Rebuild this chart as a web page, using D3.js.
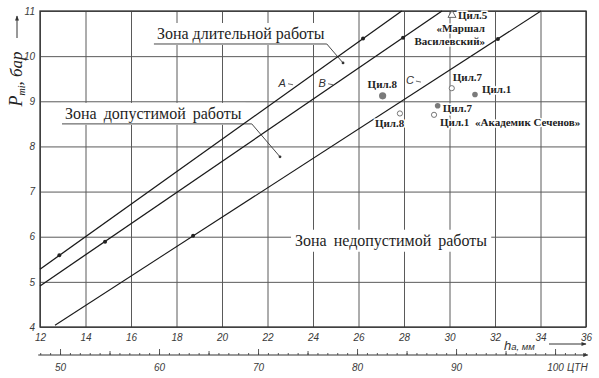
<!DOCTYPE html>
<html><head><meta charset="utf-8">
<script src="https://cdn.jsdelivr.net/npm/d3@7"></script>
<style>
body{margin:0;background:#fff;}
svg{display:block;}
</style></head><body>
<svg id="c" width="599" height="378"></svg>
<script>
// ---------- data ----------
const hTicks = [12,14,16,18,20,22,24,26,28,30,32,34,36];      // h_a, мм
const pTicks = [4,5,6,7,8,9,10,11];                             // P_mi, бар
const rulerTicks = [50,60,70,80,90,100];                         // ЦТН
const rulerMinor = d3.range(48,104,1);
const rulerMid = [55,65,75,85,95];
const rulerRange = [47.8, 103.3];
const rulerH = [12.88, 34.64];      // h_a (мм) matching 50 and 100 ЦТН

const lineNames = ["A","B","C"];
const lineA = [[12,5.28],[27.9,11.0]];
const lineB = [[12,4.91],[29.67,11.0]];
const lineC = [[12.66,4.04],[34.02,11.0]];
const lineAmarks = [[12.85,5.59],[26.2,10.39]];
const lineBmarks = [[14.86,5.89],[27.96,10.41]];
const lineCmarks = [[18.73,6.02],[32.13,10.38]];
const lineLabelPos = [[22.64,9.41],[24.40,9.41],[28.26,9.47]];

const cylNames = ["Цил.8","Цил.8","Цил.7","Цил.1","Цил.7","Цил.1","Цил.5"];
const cylH = [27.06, 27.82, 30.10, 31.12, 29.48, 29.32, 30.11];
const cylP = [9.12, 8.73, 9.29, 9.15, 8.90, 8.70, 10.91];
const cylMarker = ["filled","open","open","filled","filled","open","triangle"];

const zoneTexts = ["Зона длительной работы","Зона допустимой работы","Зона недопустимой работы"];
const zonePos = [[17.14,10.38],[13.10,8.61],[23.21,5.80]];
const zoneTargets = [[25.32,9.85],[22.55,7.77],null];

// ---------- layout ----------
const svg = d3.select("#c");
const W = 546, H = 316, L = 40, T = 11;
const x = d3.scaleLinear().domain([12,36]).range([L, L+W]);
const y = d3.scaleLinear().domain([4,11]).range([T+H, T]);
const xr = d3.scaleLinear().domain([50,100]).range([x(rulerH[0]), x(rulerH[1])]);

const gridColor = "#5a5a5a";
const tickFont = "'Liberation Sans', sans-serif";

// grid + tick labels via axes
const gx = svg.append("g").attr("transform",`translate(0,${T+H})`)
  .call(d3.axisBottom(x).tickValues(hTicks).tickSize(-H).tickPadding(7).tickFormat(d3.format("d")));
gx.select(".domain").remove();
gx.selectAll("line").attr("stroke",gridColor).attr("stroke-width",1);
gx.selectAll("text").attr("font-family",tickFont).attr("font-style","italic").attr("font-size",10).attr("fill","#3a3a3a");

const gy = svg.append("g").attr("transform",`translate(${L},0)`)
  .call(d3.axisLeft(y).tickValues(pTicks).tickSize(-W).tickPadding(5).tickFormat(d3.format("d")));
gy.select(".domain").remove();
gy.selectAll("line").attr("stroke",gridColor).attr("stroke-width",1);
gy.selectAll("text").attr("font-family",tickFont).attr("font-style","italic").attr("font-size",10).attr("fill","#3a3a3a");

// frame
svg.append("rect").attr("x",x(12)).attr("y",y(11)).attr("width",x(36)-x(12)).attr("height",y(4)-y(11))
  .attr("fill","none").attr("stroke","#333").attr("stroke-width",1.3);

// defs arrow
const defs = svg.append("defs");
defs.append("marker").attr("id","arr").attr("viewBox","0 0 10 10").attr("refX",9).attr("refY",5)
  .attr("markerWidth",7).attr("markerHeight",5).attr("orient","auto")
  .append("path").attr("d","M0,1 L10,5 L0,9 Z").attr("fill","#333");

// zone labels (white boxes)
const zoneG = svg.append("g");
zoneTexts.forEach((t,i)=>{
  const gz = zoneG.append("g");
  const txt = gz.append("text").attr("x",x(zonePos[i][0])).attr("y",y(zonePos[i][1]))
    .attr("font-family","'Liberation Serif', serif").attr("font-size",16).attr("fill","#1e1e1e")
    .attr("word-spacing", i===0?0:3).text(t);
  const bb = txt.node().getBBox();
  gz.insert("rect","text").attr("x",bb.x-4).attr("y",bb.y-2).attr("width",bb.width+8).attr("height",bb.height+4).attr("fill","#fff");
  if (zoneTargets[i]) {
    const uy = bb.y+bb.height+1;
    const ux0 = bb.x-3, ux1 = bb.x+bb.width+ (i===0?2:10);
    gz.append("path").attr("d",`M${ux0},${uy} L${ux1},${uy} L${x(zoneTargets[i][0])},${y(zoneTargets[i][1])}`)
      .attr("fill","none").attr("stroke","#333").attr("stroke-width",0.9);
    gz.append("circle").attr("cx",x(zoneTargets[i][0])).attr("cy",y(zoneTargets[i][1])).attr("r",1.4).attr("fill","#333");
  }
});

// lines
const lineGen = d3.line().x(d=>x(d[0])).y(d=>y(d[1]));
const lines = [lineA,lineB,lineC];
const marks = [lineAmarks,lineBmarks,lineCmarks];
lines.forEach((ln,i)=>{
  svg.append("path").attr("d",lineGen(ln)).attr("fill","none").attr("stroke","#1a1a1a").attr("stroke-width", i===2?1.1:1.3);
  svg.selectAll(null).data(marks[i]).join("circle").attr("cx",d=>x(d[0])).attr("cy",d=>y(d[1])).attr("r",2).attr("fill","#222");
});
lineNames.forEach((n,i)=>{
  const px = x(lineLabelPos[i][0]), py = y(lineLabelPos[i][1]);
  svg.append("text").attr("x",px).attr("y",py+4).attr("text-anchor","middle")
    .attr("font-family",tickFont).attr("font-style","italic").attr("font-size",11).attr("fill","#333").text(n);
  svg.append("line").attr("x1",px+6).attr("x2",px+11).attr("y1",py+1).attr("y2",py+2).attr("stroke","#444").attr("stroke-width",0.8);
});

// cylinder points
const labelOff = [[-15,-8],[-25,14],[1,-7],[7,-2],[5,6],[6,11],[6,4]];
const labG = svg.append("g");
cylNames.forEach((n,i)=>{
  const px = x(cylH[i]), py = y(cylP[i]);
  labG.append("text").attr("x",px+labelOff[i][0]).attr("y",py+labelOff[i][1])
    .attr("font-family","'Liberation Serif', serif").attr("font-weight","bold").attr("font-size",11).attr("fill","#222").text(n);
});
const ptG = svg.append("g");
cylNames.forEach((n,i)=>{
  const px = x(cylH[i]), py = y(cylP[i]);
  if (cylMarker[i]==="filled") ptG.append("circle").attr("cx",px).attr("cy",py).attr("r", i===0?3.6:2.8).attr("fill","#7a7a7a");
  else if (cylMarker[i]==="open") ptG.append("circle").attr("cx",px).attr("cy",py).attr("r",2.6).attr("fill","#fff").attr("stroke","#555").attr("stroke-width",0.8);
  else ptG.append("path").attr("d",d3.symbol(d3.symbolTriangle,28)()).attr("transform",`translate(${px},${py})`).attr("fill","#fff").attr("stroke","#444").attr("stroke-width",0.8);
});
// ship names
const shipFont = {"font-family":"'Liberation Serif', serif","font-weight":"bold","font-size":11,"fill":"#222"};
function shipText(tx,ty,anchor,s){
  const t = labG.append("text").attr("x",tx).attr("y",ty).attr("text-anchor",anchor).text(s);
  Object.entries(shipFont).forEach(([k,v])=>t.attr(k,v));
}
shipText(x(cylH[6])+33, y(cylP[6])+17, "end", "«Маршал");
shipText(x(cylH[6])+33, y(cylP[6])+30, "end", "Василевский»");
shipText(x(cylH[5])+41, y(cylP[5])+11, "start", "«Академик Сеченов»");
// halo for labels
labG.selectAll("text").attr("stroke","#fff").attr("stroke-width",3).attr("paint-order","stroke");

// ruler (ЦТН)
const ry = 355;
svg.append("line").attr("x1",xr(rulerRange[0])).attr("x2",xr(rulerRange[1])).attr("y1",ry).attr("y2",ry)
  .attr("stroke","#333").attr("stroke-width",1).attr("marker-end","url(#arr)");
const rmin = svg.append("g").attr("transform",`translate(0,${ry})`)
  .call(d3.axisBottom(xr).tickValues(rulerMinor).tickSize(-2).tickFormat(""));
rmin.select(".domain").remove();
const rmid = svg.append("g").attr("transform",`translate(0,${ry})`)
  .call(d3.axisBottom(xr).tickValues(rulerMid).tickSize(-4).tickFormat(""));
rmid.select(".domain").remove();
const rmaj = svg.append("g").attr("transform",`translate(0,${ry})`)
  .call(d3.axisBottom(xr).tickValues(rulerTicks).tickSize(-6).tickPadding(9).tickFormat(d3.format("d")));
rmaj.select(".domain").remove();
[rmin,rmid,rmaj].forEach(g=>g.selectAll("line").attr("stroke","#444").attr("stroke-width",0.9));
rmaj.selectAll("text").attr("font-family",tickFont).attr("font-style","italic").attr("font-size",10).attr("fill","#3a3a3a");
svg.append("text").attr("x",xr(100)+12).attr("y",ry+16)
  .attr("font-family",tickFont).attr("font-style","italic").attr("font-size",10).attr("fill","#3a3a3a").text("ЦТН");

// x axis title
const xt = svg.append("text").attr("x",504).attr("y",350).attr("font-family",tickFont).attr("font-style","italic").attr("fill","#333");
xt.append("tspan").attr("font-size",13).text("h");
xt.append("tspan").attr("font-size",9.5).text("a, мм");
svg.append("line").attr("x1",549).attr("x2",586).attr("y1",344).attr("y2",344).attr("stroke","#333").attr("stroke-width",1).attr("marker-end","url(#arr)");

// y axis title
const yt = svg.append("text").attr("transform","translate(22,79) rotate(-90)").attr("text-anchor","middle")
  .attr("font-family","'Liberation Serif', serif").attr("font-style","italic").attr("fill","#222");
yt.append("tspan").attr("font-size",18).text("P");
yt.append("tspan").attr("font-size",10).attr("dy",3).text("mi");
yt.append("tspan").attr("font-size",17).attr("dy",-3).text(", бар");
svg.append("line").attr("x1",17).attr("x2",17).attr("y1",38).attr("y2",16).attr("stroke","#333").attr("stroke-width",1).attr("marker-end","url(#arr)");
</script>
</body></html>
